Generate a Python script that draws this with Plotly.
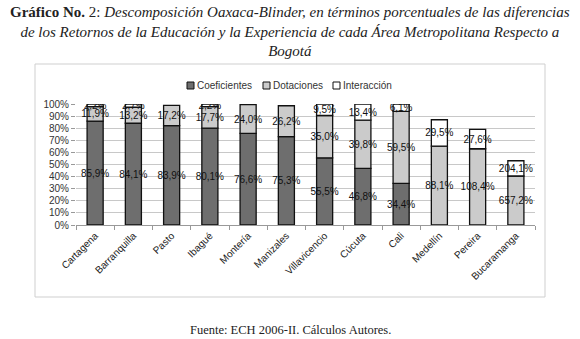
import numpy as np
import plotly.graph_objects as go

cities = ["Cartagena", "Barranquilla", "Pasto", "Ibagué", "Montería", "Manizales",
          "Villavicencio", "Cúcuta", "Cali", "Medellín", "Pereira", "Bucaramanga"]
coeficientes = [85.9, 84.1, 83.9, 80.1, 76.6, 75.3, 55.5, 46.8, 34.4, -17.6, -36.0, -761.3]
dotaciones = [11.9, 13.2, 17.2, 17.7, 24.0, 26.2, 35.0, 39.8, 59.5, 88.1, 108.4, 657.2]
interaccion = [2.2, 2.7, -1.1, 2.2, -0.6, -1.5, 9.5, 13.4, 6.1, 29.5, 27.6, 204.1]
series_names = ["Coeficientes", "Dotaciones", "Interacción"]
series_colors = ["#6e6e6e", "#cbcbcb", "#ffffff"]
y_ticks = list(range(0, 101, 10))

series = [np.array(coeficientes), np.array(dotaciones), np.array(interaccion)]
abs_total = sum(np.abs(s) for s in series)

def fmt(v):
    return f"{v:.1f}".replace(".", ",") + "%"

L, R, T, B = 76, 45, 104, 114
W, H = 580, 339
pw, ph = W - L - R, H - T - B
def px(x):
    return (x - L) / pw
def py(y):
    return (H - B - y) / ph

fig = go.Figure()
for name, vals, col in zip(series_names, series, series_colors):
    share = vals / abs_total * 100
    yv = [float(s) if v > 0 else None for s, v in zip(share, vals)]
    tx = [fmt(v) if v > 0 else "" for v in vals]
    fig.add_trace(go.Bar(
        x=cities, y=yv, name=name, text=tx,
        textposition="inside", insidetextanchor="middle", textangle=0,
        constraintext="none",
        insidetextfont=dict(family="Liberation Sans, Arial", size=10, color="#111"),
        marker=dict(color=col, line=dict(color="#111", width=1.3)),
        hoverinfo="skip", showlegend=False,
    ))

fig.update_layout(
    width=W, height=H, barmode="relative", bargap=0.58,
    margin=dict(l=L, r=R, t=T, b=B),
    paper_bgcolor="white", plot_bgcolor="white",
    font=dict(family="Liberation Sans, Arial", size=10, color="#333"),
)
fig.update_yaxes(range=[0, 100], tickvals=y_ticks, ticktext=[f"{v}%" for v in y_ticks],
                 showgrid=True, gridcolor="#c8c8c8", gridwidth=1,
                 ticks="outside", ticklen=4, tickcolor="#999",
                 showline=False, zeroline=False,
                 tickfont=dict(size=10, color="#333"))
fig.update_xaxes(tickangle=-45, ticks="outside", tickson="boundaries", ticklen=4,
                 tickcolor="#999", showline=True, linecolor="#999", linewidth=1,
                 tickfont=dict(size=10, color="#222"))

# chart frame
fig.add_shape(type="rect", xref="paper", yref="paper",
              x0=px(35), x1=px(545), y0=py(297), y1=py(64),
              line=dict(color="#cfcfcf", width=1), fillcolor="rgba(0,0,0,0)", layer="below")

# legend
leg_x = [187, 263, 333]
for name, col, x0 in zip(series_names, series_colors, leg_x):
    fig.add_shape(type="rect", xref="paper", yref="paper",
                  x0=px(x0), x1=px(x0 + 7), y0=py(89), y1=py(82),
                  line=dict(color="#111", width=1), fillcolor=col)
    fig.add_annotation(x=px(x0 + 8), y=py(85.5), xref="paper", yref="paper",
                       xanchor="left", yanchor="middle", showarrow=False,
                       text=name, font=dict(size=10, color="#333"))

title = ("<b>Gráfico No.</b> 2: <i>Descomposición Oaxaca-Blinder, en términos porcentuales de las diferencias</i><br>"
         "<i>de los Retornos de la Educación y la Experiencia de cada Área Metropolitana Respecto a</i><br>"
         "<i>Bogotá</i>")
fig.add_annotation(x=px(290), y=py(2), xref="paper", yref="paper", xanchor="center",
                   yanchor="top", showarrow=False, align="center", text=title,
                   font=dict(family="Liberation Serif, Times New Roman, serif", size=15, color="#222"))
fig.add_annotation(x=px(290), y=py(330), xref="paper", yref="paper", xanchor="center",
                   yanchor="middle", showarrow=False,
                   text="Fuente: ECH 2006-II. Cálculos Autores.",
                   font=dict(family="Liberation Serif, Times New Roman, serif", size=12.5, color="#222"))

fig.write_html("out.html", config={"displayModeBar": False},
               post_script="document.body.style.margin='0';")
